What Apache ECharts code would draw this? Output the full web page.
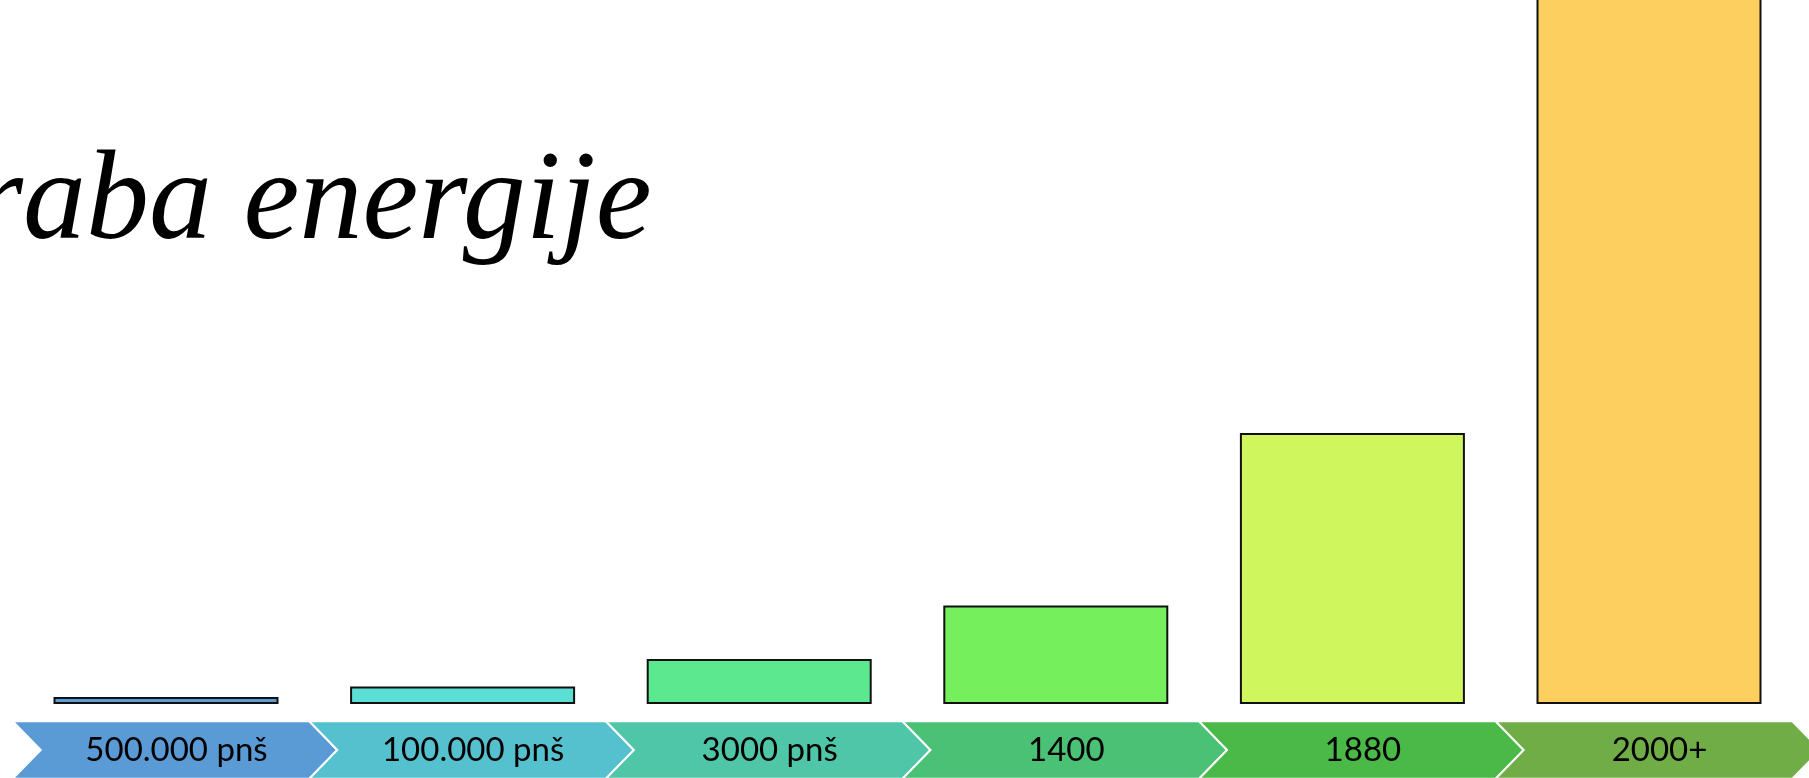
<!DOCTYPE html>
<html>
<head>
<meta charset="utf-8">
<title>Poraba energije</title>
<script src="https://cdn.jsdelivr.net/npm/echarts@6/dist/echarts.min.js"></script>
<style>
  html, body { margin: 0; padding: 0; background: #ffffff; }
  #chart { width: 1809px; height: 778px; }
</style>
</head>
<body>
<div id="chart"></div>
<script>
// Time periods shown on the chevron strip
const periods = ['500.000 pnš', '100.000 pnš', '3000 pnš', '1400', '1880', '2000+'];
// Daily energy use per person (thousand kcal)
const energyUse = [2, 5, 12.8, 28, 77, 230];
const barColors = ['#5B9BD5', '#5BDFD5', '#5CE88E', '#76EF5D', '#CFF75D', '#FDCF5F'];
const chevronColors = ['#5B9BD5', '#55C1CF', '#50C6A9', '#4BC176', '#4AB948', '#70AD47'];
const titleText = 'Poraba energije';

const chart = echarts.init(document.getElementById('chart'), null, { renderer: 'canvas' });

const option = {
  animation: false,
  backgroundColor: '#ffffff',
  grid: { left: 17.7, right: 11.7, top: 0, bottom: 74 },
  xAxis: {
    type: 'category',
    data: periods,
    boundaryGap: true,
    show: false
  },
  yAxis: {
    type: 'value',
    min: 0,
    max: 200,
    show: false
  },
  graphic: [
    {
      type: 'text',
      left: -166,
      top: 142,
      silent: true,
      style: {
        text: titleText,
        fontFamily: '"Times New Roman", "Liberation Serif", serif',
        fontStyle: 'italic',
        fontSize: 126,
        fill: '#000000'
      }
    }
  ],
  series: [
    {
      type: 'bar',
      data: energyUse.map((v, i) => ({
        value: v,
        itemStyle: { color: barColors[i] }
      })),
      barWidth: 225,
      // the last bar runs past the top edge of the page
      clip: false,
      itemStyle: { borderColor: '#111111', borderWidth: 2 },
      z: 2
    },
    {
      // chevron strip under the axis, one arrow per period
      type: 'custom',
      data: periods.map((p, i) => [i, 0]),
      encode: { x: 0, y: 1 },
      clip: false,
      silent: true,
      z: 1,
      renderItem(params, api) {
        const i = api.value(0);
        const base = api.coord([i, 0]);
        const band = api.size([1, 0])[0];
        const left = base[0] - band / 2 - 5;
        const top = base[1] + 17.3;
        const bottom = base[1] + 74.7;
        const mid = (top + bottom) / 2;
        const d = 28;
        const w = band;
        return {
          type: 'group',
          children: [
            {
              type: 'polygon',
              shape: {
                points: [
                  [left, top], [left + w, top], [left + w + d, mid],
                  [left + w, bottom], [left, bottom], [left + d, mid]
                ]
              },
              style: { fill: chevronColors[i], stroke: '#ffffff', lineWidth: 2 }
            },
            {
              type: 'text',
              style: {
                text: periods[i],
                x: left + 163.8,
                y: mid,
                align: 'center',
                verticalAlign: 'middle',
                fontFamily: 'Lato',
                fontSize: 33,
                fill: '#000000'
              }
            }
          ]
        };
      }
    }
  ]
};

chart.setOption(option);
</script>
</body>
</html>
